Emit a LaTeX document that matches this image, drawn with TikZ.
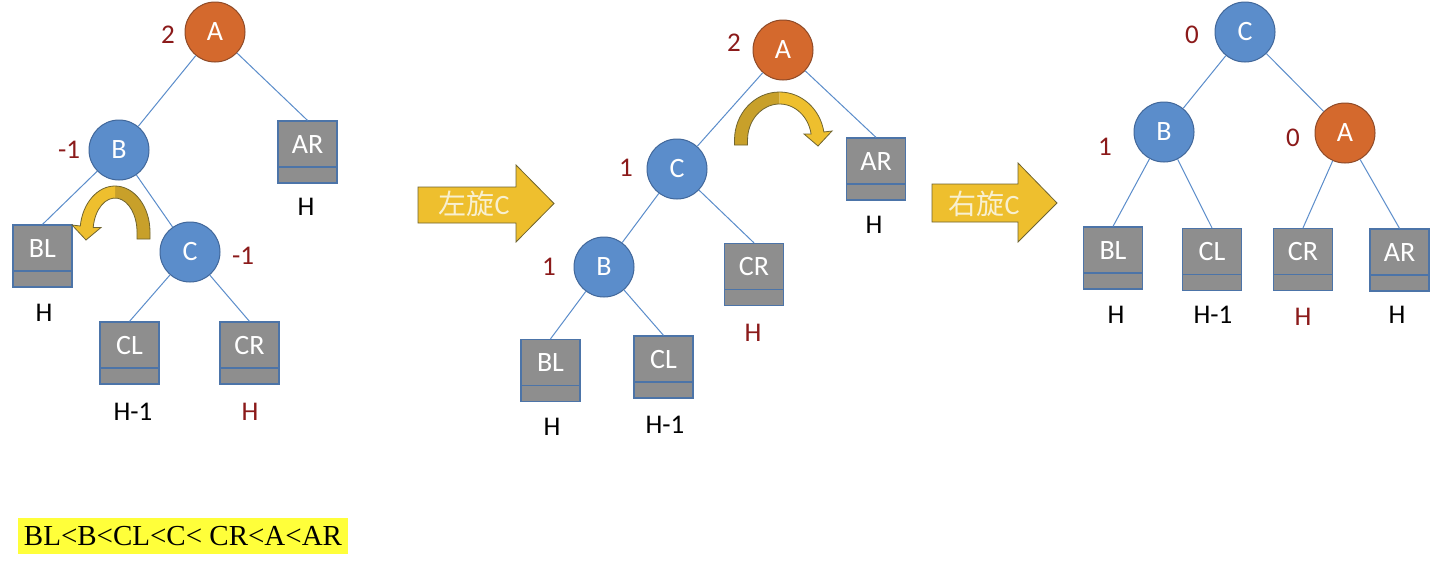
\documentclass[tikz,border=0pt]{standalone}
\usepackage{fontspec}
\setmainfont{Carlito}
\newfontfamily\cjkf{Noto Sans CJK SC}
\newfontfamily\tmsf{Liberation Serif}
\newcommand\fsz{\fontsize{27}{31}\selectfont}
\newcommand\fszb{\fontsize{28}{32}\selectfont}
\definecolor{cblue}{HTML}{5B8DCB}
\definecolor{cblueb}{HTML}{41679A}
\definecolor{corange}{HTML}{D4692D}
\definecolor{coranb}{HTML}{8E4A28}
\definecolor{bgray}{HTML}{8E8E8E}
\definecolor{bbord}{HTML}{4C74A8}
\definecolor{edgeb}{HTML}{5B8DCB}
\definecolor{lred}{HTML}{8B1A1A}
\definecolor{arrY}{HTML}{EEBF2E}
\definecolor{arrD}{HTML}{C8A02A}
\definecolor{arrB}{HTML}{6F6430}
\definecolor{hlY}{HTML}{FFFF3A}
\definecolor{atxt}{HTML}{F8F0D0}
\tikzset{
  bnode/.style={circle, draw=cblueb, fill=cblue, line width=1pt, minimum size=60pt, inner sep=0pt, text=white, font=\fszb},
  onode/.style={bnode, draw=coranb, fill=corange},
  subtree/.style={rectangle, draw=bbord, fill=bgray, line width=1.2pt, minimum width=59pt, minimum height=62pt, inner sep=0pt, text height=32pt, text depth=30pt, text=white, font=\fszb,
    path picture={\draw[bbord, line width=1.2pt] ([yshift=16pt]path picture bounding box.south west) -- ([yshift=16pt]path picture bounding box.south east);}},
  bal/.style={text=lred, font=\fsz, inner sep=0pt},
  hgt/.style={text=black, font=\fsz, inner sep=0pt},
  hgtr/.style={text=lred, font=\fsz, inner sep=0pt},
  tedge/.style={draw=edgeb, line width=1pt},
  bigarrow/.style={fill=arrY, draw=arrB, line width=0.8pt},
  arrtxt/.style={text=atxt, font=\fszb, inner sep=0pt},
  curvbright/.style={fill=arrY},
  curvdark/.style={fill=arrD},
  curvline/.style={draw=arrB, line width=0.8pt}
}
\begin{document}
\begin{tikzpicture}[x=1pt,y=1pt]
\useasboundingbox (0,0) rectangle (1443,-565);
\fill[white] (0,0) rectangle (1443,-565);

% ---------- Tree 1 ----------
\node[onode] (A1) at (215,-32) {A};
\node[bnode] (B1) at (119,-150) {B};
\node[bnode] (C1) at (190,-252) {C};
\node[subtree] (AR1) at (307.5,-152) {AR};
\node[subtree] (BL1) at (42.5,-256) {BL};
\node[subtree] (CL1) at (129.5,-353) {CL};
\node[subtree] (CR1) at (249.5,-353) {CR};
\draw[tedge] (A1) -- (B1);
\draw[tedge] (A1) -- (AR1.north);
\draw[tedge] (B1) -- (BL1.north);
\draw[tedge] (B1) -- (C1);
\draw[tedge] (C1) -- (CL1.north);
\draw[tedge] (C1) -- (CR1.north);
\node[bal] (bA1) at (168,-35) {2};
\node[bal] (bB1) at (69,-150) {-1};
\node[bal] (bC1) at (243,-256) {-1};
\node[hgt] (hAR1) at (306,-207) {H};
\node[hgt] (hBL1) at (44,-313) {H};
\node[hgt] (hCL1) at (133,-412) {H-1};
\node[hgtr] (hCR1) at (250,-412) {H};

% curved arrow 1 (centre 115,-232)
\path[curvdark] (137,-239) -- (150,-239) -- (150,-232) arc[start angle=0, end angle=90, x radius=35, y radius=46] -- (115,-198) arc[start angle=90, end angle=0, x radius=22, y radius=34] -- cycle;
\path[curvbright] (115,-186) arc[start angle=90, end angle=172.5, x radius=35, y radius=46] -- (72,-225) -- (86,-240) -- (101,-227.5) -- (93.2,-227.6) arc[start angle=172.5, end angle=90, x radius=22, y radius=34] -- cycle;
\draw[curvline] (137,-239) -- (150,-239) -- (150,-232) arc[start angle=0, end angle=172.5, x radius=35, y radius=46] -- (72,-225) -- (86,-240) -- (101,-227.5) -- (93.2,-227.6) arc[start angle=172.5, end angle=0, x radius=22, y radius=34] -- cycle;

% big arrow 1
\draw[bigarrow] (418,-187) -- (516,-187) -- (516,-165) -- (554,-203.5) -- (516,-242) -- (516,-223) -- (418,-223) -- cycle;
\node[arrtxt] (t1) at (474,-204) {{\cjkf 左旋}C};

% ---------- Tree 2 ----------
\node[onode] (A2) at (783,-50) {A};
\node[bnode] (C2) at (677,-169) {C};
\node[bnode] (B2) at (604,-267) {B};
\node[subtree] (AR2) at (876,-169) {AR};
\node[subtree] (CR2) at (754,-274.5) {CR};
\node[subtree] (BL2) at (550.5,-370.5) {BL};
\node[subtree] (CL2) at (663.5,-367) {CL};
\draw[tedge] (A2) -- (C2);
\draw[tedge] (A2) -- (AR2.north);
\draw[tedge] (C2) -- (B2);
\draw[tedge] (C2) -- (CR2.north);
\draw[tedge] (B2) -- (BL2.north);
\draw[tedge] (B2) -- (CL2.north);
\node[bal] (bA2) at (734,-43) {2};
\node[bal] (bC2) at (626,-168) {1};
\node[bal] (bB2) at (549,-267) {1};
\node[hgt] (hAR2) at (874,-225) {H};
\node[hgtr] (hCR2) at (753,-333) {H};
\node[hgt] (hBL2) at (552,-427) {H};
\node[hgt] (hCL2) at (665,-425) {H-1};

% curved arrow 2 (centre 779.5,-140)
\path[curvdark] (747.5,-145) -- (734.5,-145) -- (734.5,-140) arc[start angle=180, end angle=90, x radius=45, y radius=48] -- (779.5,-104) arc[start angle=90, end angle=180, x radius=32, y radius=36] -- cycle;
\path[curvbright] (779.5,-92) arc[start angle=90, end angle=9.6, x radius=45, y radius=48] -- (832,-131) -- (818,-146) -- (804,-134) -- (811.1,-134) arc[start angle=9.6, end angle=90, x radius=32, y radius=36] -- cycle;
\draw[curvline] (747.5,-145) -- (734.5,-145) -- (734.5,-140) arc[start angle=180, end angle=9.6, x radius=45, y radius=48] -- (832,-131) -- (818,-146) -- (804,-134) -- (811.1,-134) arc[start angle=9.6, end angle=180, x radius=32, y radius=36] -- cycle;

% big arrow 2
\draw[bigarrow] (932,-184) -- (1018,-184) -- (1018,-163) -- (1057,-203) -- (1018,-242) -- (1018,-222) -- (932,-222) -- cycle;
\node[arrtxt] (t2) at (984,-204) {{\cjkf 右旋}C};

% ---------- Tree 3 ----------
\node[bnode] (C3) at (1245,-32) {C};
\node[bnode] (B3) at (1164,-132) {B};
\node[onode] (A3) at (1345,-133) {A};
\node[subtree] (BL3) at (1113,-258) {BL};
\node[subtree] (CL3) at (1212,-259.5) {CL};
\node[subtree] (CR3) at (1303,-259.5) {CR};
\node[subtree] (AR3) at (1399.5,-260) {AR};
\draw[tedge] (C3) -- (B3);
\draw[tedge] (C3) -- (A3);
\draw[tedge] (B3) -- (BL3.north);
\draw[tedge] (B3) -- (CL3.north);
\draw[tedge] (A3) -- (CR3.north);
\draw[tedge] (A3) -- (AR3.north);
\node[bal] (bC3) at (1192,-35) {0};
\node[bal] (bB3) at (1105,-147) {1};
\node[bal] (bA3) at (1293,-138) {0};
\node[hgt] (hBL3) at (1116,-315) {H};
\node[hgt] (hCL3) at (1213,-315) {H-1};
\node[hgtr] (hCR3) at (1303,-317) {H};
\node[hgt] (hAR3) at (1397,-315) {H};

% ordering text
\node[fill=hlY, minimum width=330pt, minimum height=36pt, inner sep=0pt, font=\tmsf\fontsize{29}{32}\selectfont] (ord) at (183,-536) {BL<B<CL<C< CR<A<AR};
\end{tikzpicture}
\end{document}
